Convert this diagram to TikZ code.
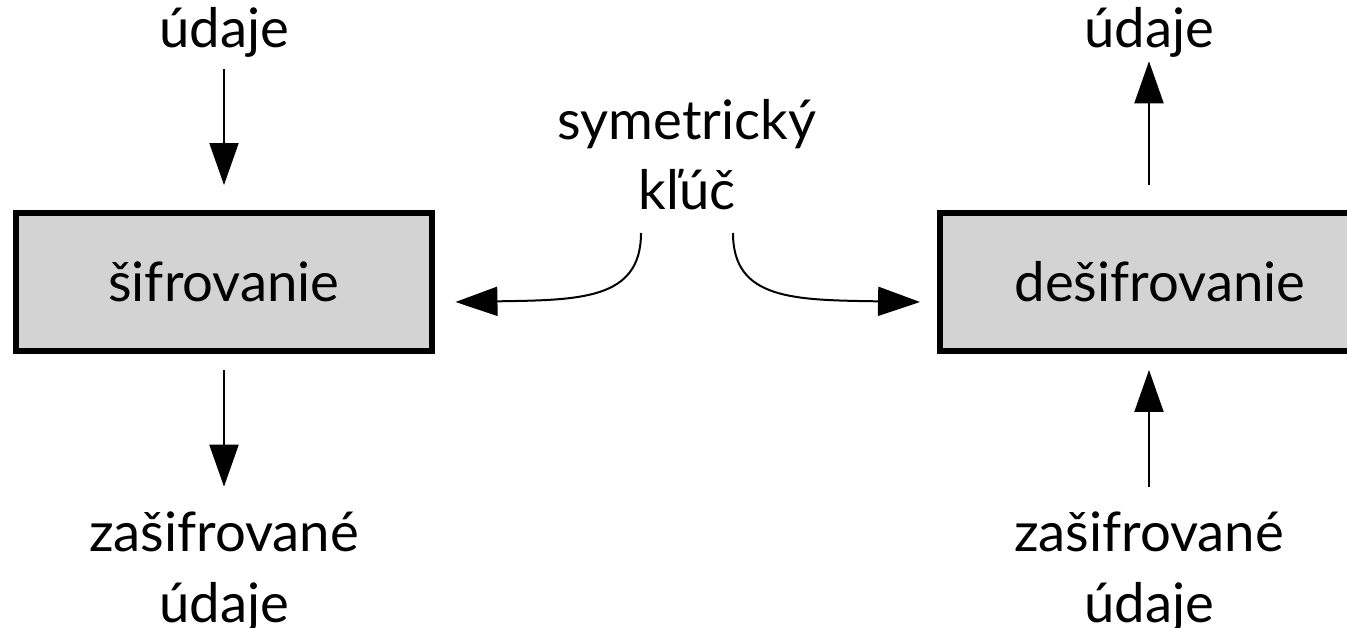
\documentclass[tikz,border=0pt]{standalone}
\usepackage{fontspec}
\setmainfont{Lato}
\usetikzlibrary{arrows.meta,calc}
\definecolor{boxgray}{HTML}{D3D3D3}
\begin{document}
\begin{tikzpicture}[x=0.02cm,y=-0.02cm,
  lbl/.style={font=\fontsize{31}{40}\selectfont, align=center, inner sep=0pt},
  box/.style={draw, line width=0.12cm, fill=boxgray, minimum width=8.34cm, minimum height=2.76cm,
              font=\fontsize{31}{40}\selectfont, inner sep=0pt},
  arr/.style={line width=0.04cm, -{Triangle[length=0.84cm,width=0.58cm]}}]
\useasboundingbox (0,0) rectangle (1347,628);

\node[box] (enc) at (224,282) {šifrovanie};
\node[box, minimum width=8.8cm] (dec) at (1160,282) {dešifrovanie};

\node[lbl, anchor=base] (in1) at (224,48) {údaje};
\node[lbl] (out1) at (224,572) {zašifrované\\údaje};
\node[lbl, anchor=base] (in2) at (1149,48) {údaje};
\node[lbl] (out2) at (1149,572) {zašifrované\\údaje};
\node[lbl] (key) at (687,155) {symetrický\\kľúč};

\coordinate (ks1) at (641,233);
\coordinate (ks2) at (733,233);

\draw[arr, shorten <=0.22cm, shorten >=0.5cm] (in1) -- (enc);
\draw[arr, shorten <=0.32cm, shorten >=0.5cm] (enc) -- (out1);
\draw[arr, shorten <=0.5cm, shorten >=0.06cm] (dec.north -| in2) -- (in2);
\draw[arr, shorten <=0.5cm, shorten >=0.32cm] (out2) -- (out2 |- dec.south);

\draw[arr] (ks1) .. controls (641,300) and (580,300) .. ($(enc.east)+(20,20)$);
\draw[arr] (ks2) .. controls (733,300) and (794,300) .. ($(dec.west)+(-17,20)$);
\end{tikzpicture}
\end{document}
